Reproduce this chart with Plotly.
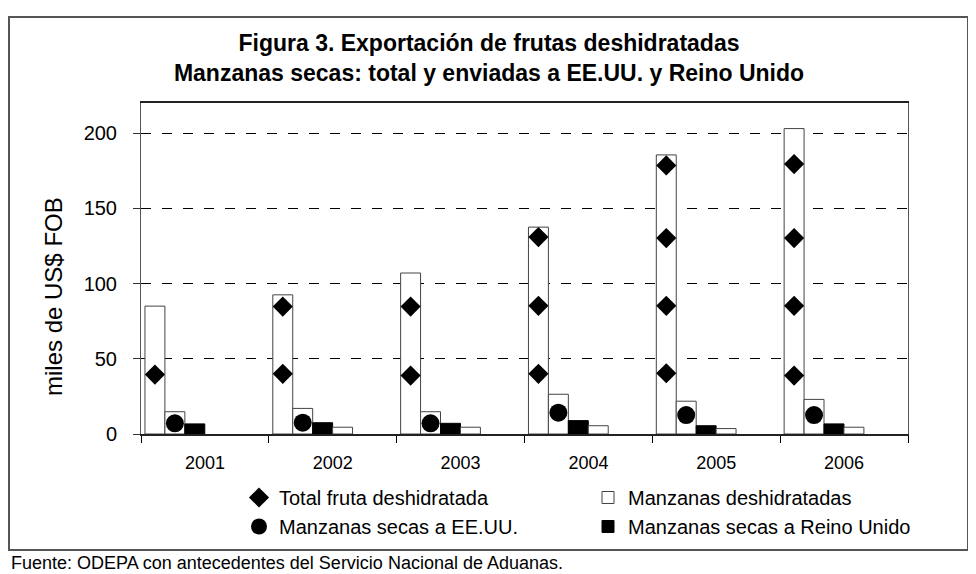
import plotly.graph_objects as go

# ---------------- data ----------------
years = [2001, 2002, 2003, 2004, 2005, 2006]
total_fruta = [85, 92.5, 107, 137.5, 185.5, 203]          # bar with stacked diamonds
manz_eeuu = [14.8, 17, 14.8, 26.4, 21.8, 23]              # bar with circle
manz_ru = [6.7, 7.5, 7.1, 8.9, 5.5, 6.7]                  # black bar
manz_desh = [None, 4.5, 4.5, 5.5, 3.6, 4.5]               # small white bar (none in 2001)

diamond_years = [2001, 2002, 2002, 2003, 2003, 2004, 2004, 2004,
                 2005, 2005, 2005, 2005, 2006, 2006, 2006, 2006]
diamond_vals = [39.5, 40, 84.7, 38.8, 84.7, 40, 85.2, 130.9,
                40.4, 85.2, 130.2, 178.5, 38.8, 85.2, 130.2, 179.4]
circle_vals = [7.1, 7.5, 7.1, 14.2, 12.6, 12.6]

y_ticks = [0, 50, 100, 150, 200]
year_labels = [str(y) for y in years]
boundaries = [2000.5, 2001.5, 2002.5, 2003.5, 2004.5, 2005.5, 2006.5]

# ---------------- layout constants ----------------
# the page places the figure 8px from the window's top-left corner
PAGE = 8
W, H = 976 - PAGE, 574 - PAGE
# plot area in window pixels: x 141..908, y 103..434
PX0, PX1, PY0, PY1 = 141, 908, 103, 434
L, R = PX0 - PAGE, W - (PX1 - PAGE)
T, B = PY0 - PAGE, H - (PY1 - PAGE)
PW, PH = PX1 - PX0, PY1 - PY0
BAR_W = 0.156
OFF0 = -0.469
FONT = "Liberation Sans, Arial, sans-serif"


def px_x(px):
    """window pixel x -> paper x"""
    return (px - PX0) / PW


def px_y(py):
    """window pixel y -> paper y"""
    return (PY1 - py) / PH


outline = dict(color="#444444", width=1)

fig = go.Figure()

fig.add_trace(go.Bar(x=years, y=total_fruta, width=BAR_W, offset=OFF0,
                     marker=dict(color="white", line=outline),
                     name="Total fruta deshidratada", showlegend=False,
                     legendgroup="total"))
fig.add_trace(go.Bar(x=years, y=manz_eeuu, width=BAR_W, offset=OFF0 + BAR_W,
                     marker=dict(color="white", line=outline),
                     name="Manzanas secas a EE.UU.", showlegend=False,
                     legendgroup="eeuu"))
fig.add_trace(go.Bar(x=years, y=manz_ru, width=BAR_W, offset=OFF0 + 2 * BAR_W,
                     marker=dict(color="black", line=dict(color="black", width=1)),
                     name="Manzanas secas a Reino Unido", legend="legend2",
                     legendrank=2))
fig.add_trace(go.Bar(x=years, y=manz_desh, width=BAR_W, offset=OFF0 + 3 * BAR_W,
                     marker=dict(color="white", line=outline),
                     name="Manzanas deshidratadas", legend="legend2",
                     legendrank=1))

fig.add_trace(go.Scatter(x=[y + OFF0 + BAR_W / 2 for y in diamond_years],
                         y=diamond_vals, mode="markers",
                         marker=dict(symbol="diamond", size=15.5, color="black"),
                         name="Total fruta deshidratada", legendgroup="total",
                         legendrank=1))
fig.add_trace(go.Scatter(x=[y + OFF0 + 1.5 * BAR_W for y in years],
                         y=circle_vals, mode="markers",
                         marker=dict(symbol="circle", size=18, color="black"),
                         name="Manzanas secas a EE.UU.", legendgroup="eeuu",
                         legendrank=2))

fig.update_layout(
    width=W, height=H,
    margin=dict(l=L, r=R, t=T, b=B, autoexpand=False),
    paper_bgcolor="white", plot_bgcolor="white",
    font=dict(family=FONT, color="black", size=18),
    barmode="overlay",
    title=dict(
        text="<b>Figura 3. Exportación de frutas deshidratadas<br>"
             "Manzanas secas: total y enviadas a EE.UU. y Reino Unido</b>",
        x=(489 - PAGE) / W, xref="container", xanchor="center",
        y=1 - (51 - PAGE) / H, yref="container", yanchor="middle",
        font=dict(family=FONT, size=23, color="black"),
    ),
    xaxis=dict(
        range=[boundaries[0], boundaries[-1]],
        tickmode="array", tickvals=years, ticktext=year_labels,
        ticks="", ticklabelstandoff=12,
        tickfont=dict(size=18),
        minor=dict(tickmode="array", tickvals=boundaries, ticks="outside",
                   ticklen=7, tickcolor="black", showgrid=False),
        showline=True, linecolor="#222222", linewidth=1.5, mirror=True,
        showgrid=False, zeroline=False, fixedrange=True,
    ),
    yaxis=dict(
        range=[0, 220], tickmode="array", tickvals=y_ticks,
        ticks="outside", ticklen=7, tickcolor="#333333",
        ticklabelstandoff=12, tickfont=dict(size=20),
        showline=True, linecolor="#555555", linewidth=1, mirror=True,
        showgrid=True, gridcolor="black", gridwidth=1, griddash="10px,11px",
        zeroline=False, fixedrange=True,
    ),
    legend=dict(orientation="v", x=px_x(239), y=px_y(478), xanchor="left",
                yanchor="top", bgcolor="rgba(0,0,0,0)",
                font=dict(size=20), tracegroupgap=0, itemclick=False),
    legend2=dict(orientation="v", x=px_x(588), y=px_y(478), xanchor="left",
                 yanchor="top", bgcolor="rgba(0,0,0,0)",
                 font=dict(size=20), tracegroupgap=0, itemclick=False),
    showlegend=True,
)

# y-axis title
fig.add_annotation(text="miles de US$ FOB", textangle=-90,
                   x=px_x(53), y=px_y(297), xref="paper", yref="paper",
                   showarrow=False, font=dict(size=24),
                   xanchor="center", yanchor="middle")

# source note
fig.add_annotation(text="Fuente: ODEPA con antecedentes del Servicio Nacional de Aduanas.",
                   x=px_x(PAGE + 1), y=px_y(563), xref="paper", yref="paper",
                   showarrow=False, font=dict(size=18),
                   xanchor="left", yanchor="middle")

# outer frame
fig.add_shape(type="rect", xref="paper", yref="paper",
              x0=px_x(9), x1=px_x(968), y0=px_y(550), y1=px_y(17),
              line=dict(color="#555555", width=2), fillcolor="rgba(0,0,0,0)",
              layer="below")

fig.write_html("out.html")
